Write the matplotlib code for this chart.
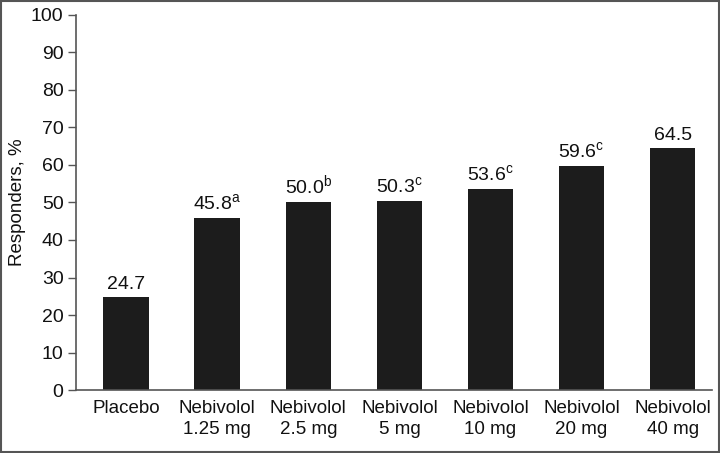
import matplotlib
matplotlib.use('Agg')
import matplotlib.pyplot as plt
from matplotlib.patches import Rectangle

plt.rcParams['font.family'] = ['Liberation Sans', 'DejaVu Sans']
plt.rcParams['mathtext.fontset'] = 'custom'
plt.rcParams['mathtext.rm'] = 'Liberation Sans'

groups = ['Placebo', 'Nebivolol\n1.25 mg', 'Nebivolol\n2.5 mg', 'Nebivolol\n5 mg',
          'Nebivolol\n10 mg', 'Nebivolol\n20 mg', 'Nebivolol\n40 mg']
responders = [24.7, 45.8, 50.0, 50.3, 53.6, 59.6, 64.5]
marks = ['', 'a', 'b', 'c', 'c', 'c', '']


def bar_chart():
	fig = plt.figure(figsize=(7.2, 4.53), dpi=100)
	ax = fig.add_axes([0.1056, 0.139, 0.883, 0.828])

	x = range(len(groups))
	ax.bar(x, responders, width=0.5, color='#1c1c1c')

	for xi, v, m in zip(x, responders, marks):
		txt = f'{v:.1f}'
		if m:
			txt += r'$^{\mathrm{' + m + '}}$'
		ax.annotate(txt, (xi, v), xytext=(0, 3), textcoords='offset points',
			ha='center', va='bottom', fontsize=14, color='#111111')

	ax.set_xlim(-0.55, 6.43)
	ax.set_ylim(0, 100)
	ax.set_yticks(range(0, 101, 10))
	ax.set_xticks(list(x))
	ax.set_xticklabels(groups, fontsize=13.5, color='#111111', linespacing=1.35)
	ax.tick_params(axis='x', length=0, pad=7)
	ax.tick_params(axis='y', labelsize=14, length=6, width=1, color='#555555',
		labelcolor='#111111', pad=3)
	for s in ['top', 'right']:
		ax.spines[s].set_visible(False)
	for s in ['left', 'bottom']:
		ax.spines[s].set_color('#555555')
		ax.spines[s].set_linewidth(1.2)
	ax.set_ylabel('Responders, %', fontsize=13.5, color='#111111')
	ax.yaxis.set_label_coords(-0.078, 0.5)

	# frame around the whole picture
	fig.patches.append(Rectangle((0.002, 0.003), 0.996, 0.994, transform=fig.transFigure,
		fill=False, edgecolor='#555555', linewidth=1.5))

	fig.savefig('out.png', dpi=100)


if __name__ == "__main__":
	bar_chart()
